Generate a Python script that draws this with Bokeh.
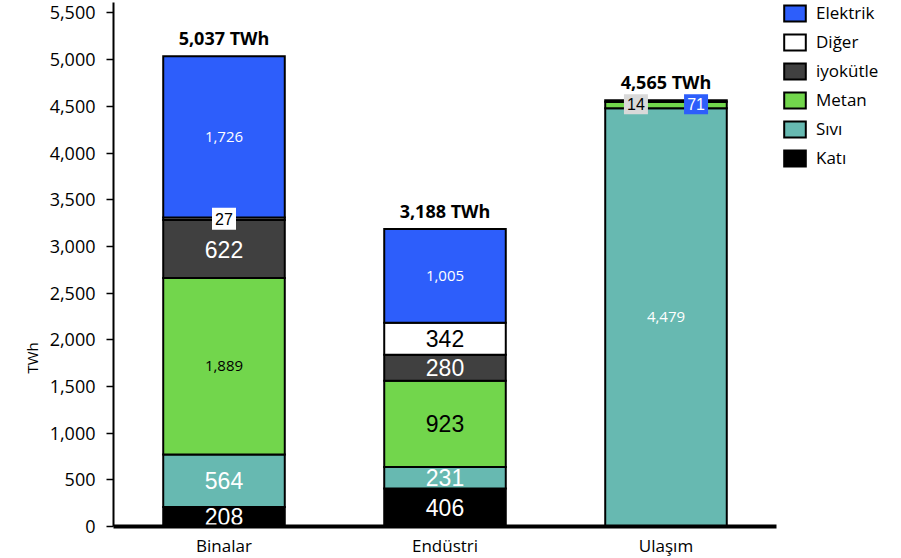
from bokeh.plotting import figure
from bokeh.models import (ColumnDataSource, FactorRange, Range1d, FixedTicker,
                          NumeralTickFormatter, Legend, LegendItem, Title)
from bokeh.core.properties import value
from bokeh.embed import file_html
from bokeh.resources import INLINE

# ---------------- data ----------------
sectors = ["Binalar", "Endüstri", "Ulaşım"]
series = ["Katı", "Sıvı", "Metan", "iyokütle", "Diğer", "Elektrik"]
kati = [208, 406, 0]
sivi = [564, 231, 4479]
metan = [1889, 923, 71]
iyokutle = [622, 280, 0]
diger = [27, 342, 0]
elektrik = [1726, 1005, 14]
totals = [5037, 3188, 4565]
y_ticks = [0, 500, 1000, 1500, 2000, 2500, 3000, 3500, 4000, 4500, 5000, 5500]
note_text = ["14", "71"]          # small boxed labels on top of Ulaşım
note_side = [-1, 1]

colors = ["#000000", "#67b9b1", "#72d64c", "#404040", "#ffffff", "#2d5efb"]
label_colors = ["white", "white", "black", "white", "black", "white"]
note_fill = ["#d9d9d9", "#2d5efb"]
note_color = ["black", "white"]
small_style = {("Binalar", "Metan"), ("Binalar", "Elektrik"),
               ("Endüstri", "Elektrik"), ("Ulaşım", "Sıvı")}
boxed_style = {("Binalar", "Diğer")}

values = [kati, sivi, metan, iyokutle, diger, elektrik]
data = {"sector": sectors}
for s, v in zip(series, values):
    data[s] = v
src = ColumnDataSource(data)

p = figure(x_range=FactorRange(*sectors, range_padding=0),
           y_range=Range1d(0, 5612),
           frame_width=663, frame_height=524,
           min_border_left=113, min_border_right=125,
           min_border_top=2, min_border_bottom=32,
           output_backend="svg", toolbar_location=None)

renderers = p.vbar_stack(series, x="sector", width=0.55, source=src,
                         fill_color=colors, line_color="black", line_width=2,
                         line_join="miter")

# ---------------- segment labels ----------------
big = dict(x=[], y=[], t=[], c=[])
small = dict(x=[], y=[], t=[], c=[])
boxed = dict(x=[], y=[], t=[], c=[], f=[])
for i, sec in enumerate(sectors):
    base = 0
    for j, s in enumerate(series):
        v = values[j][i]
        mid = base + v / 2
        base += v
        if v == 0 or sec == "Ulaşım" and s in ("Metan", "Elektrik"):
            continue
        key = (sec, s)
        if key in boxed_style:
            tgt = boxed
            boxed["f"].append(colors[j])
        elif key in small_style:
            tgt = small
        else:
            tgt = big
        tgt["x"].append(i + 0.5)
        tgt["y"].append(mid)
        tgt["t"].append(f"{v:,}")
        tgt["c"].append(label_colors[j])

p.text(x=big["x"], y=big["y"], text=big["t"], text_color=big["c"],
       text_font=value("Liberation Sans"), text_font_size=value("23px"),
       text_align="center", text_baseline="middle")
p.text(x=small["x"], y=small["y"], text=small["t"], text_color=small["c"],
       text_font=value("Open Sans"), text_font_size=value("15px"),
       text_align="center", text_baseline="middle")
p.rect(x=boxed["x"], y=boxed["y"], width=24, height=22, width_units="screen",
       height_units="screen", fill_color=boxed["f"], line_color=None)
p.text(x=boxed["x"], y=boxed["y"], text=boxed["t"], text_color=boxed["c"],
       text_font=value("Liberation Sans"), text_font_size=value("16px"),
       text_align="center", text_baseline="middle")

# notes on Ulaşım top
ui = sectors.index("Ulaşım")
top_mid = sivi[ui] + (metan[ui] + elektrik[ui]) / 2
nx = [ui + 0.5 + 0.136 * d for d in note_side]
ny = [top_mid, top_mid]
p.rect(x=nx, y=ny, width=24, height=20, width_units="screen",
       height_units="screen", fill_color=note_fill, line_color=None)
p.text(x=nx, y=ny, text=note_text, text_color=note_color,
       text_font=value("Liberation Sans"), text_font_size=value("16px"),
       text_align="center", text_baseline="middle")

# totals
p.text(x=[i + 0.5 for i in range(len(sectors))], y=totals,
       text=[f"{t:,} TWh" for t in totals], text_color="black",
       text_font=value("Open Sans"), text_font_size=value("18px"),
       text_font_style="bold", text_align="center", text_baseline="middle",
       y_offset=-18)

# ---------------- axes ----------------
p.xgrid.grid_line_color = None
p.ygrid.grid_line_color = None
p.outline_line_color = None

ya = p.yaxis[0]
ya.ticker = FixedTicker(ticks=y_ticks)
ya.formatter = NumeralTickFormatter(format="0,0")
ya.major_label_text_font = "Open Sans"
ya.major_label_text_font_size = "18px"
ya.major_label_text_color = "black"
ya.major_tick_out = 7
ya.major_tick_in = 0
ya.major_tick_line_width = 1.5
ya.minor_tick_line_color = None
ya.axis_line_width = 2
ya.major_label_standoff = 11

xa = p.xaxis[0]
xa.axis_line_width = 4
xa.major_tick_line_color = None
xa.minor_tick_line_color = None
xa.major_label_text_font = "Open Sans"
xa.major_label_text_font_size = "17px"
xa.major_label_text_color = "black"
xa.major_label_standoff = 1

p.add_layout(Title(text="TWh", align="left", offset=153,
                   text_font="Open Sans", text_font_size="15px",
                   text_font_style="normal", text_color="black"), "left")

# ---------------- legend ----------------
items = [LegendItem(label=s, renderers=[r])
         for s, r in reversed(list(zip(series, renderers)))]
legend = Legend(items=items, location=(5, 357), orientation="vertical",
                glyph_width=27, glyph_height=20, label_height=20, spacing=6,
                label_standoff=8, padding=0, margin=0,
                border_line_color=None, background_fill_alpha=0,
                label_text_font="Open Sans", label_text_font_size="17px",
                label_text_color="black")
p.add_layout(legend, "right")

open("out.html", "w").write(file_html(p, INLINE))
